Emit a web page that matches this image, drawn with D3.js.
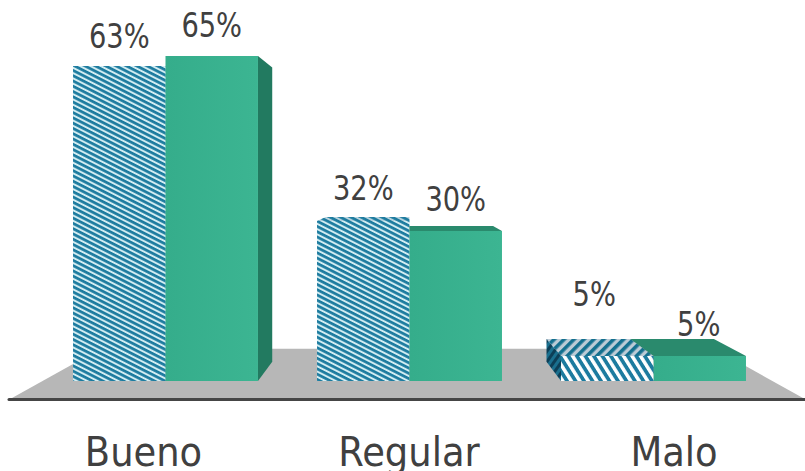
<!DOCTYPE html>
<html><head><meta charset="utf-8">
<script src="https://cdn.jsdelivr.net/npm/d3@7"></script>
<style>html,body{margin:0;padding:0;background:#fff}svg{display:block}</style>
</head><body><svg id="c" width="805" height="471"></svg>
<script>
const categories = ["Bueno","Regular","Malo"];
const seriesNames = ["A","B"];
const seriesA = [63,32,5];
const seriesB = [65,30,5];
const labelLift = [[18.5,21,50],[19,20,20]];
const labelShift = [[0,0,-13],[0,0,-1]];

const svg = d3.select("#c");
const defs = svg.append("defs");
const BLUE="#1c7b9f";
function hatch(id,period,stripe,angle,bg,fg){
  const p=defs.append("pattern").attr("id",id).attr("patternUnits","userSpaceOnUse")
    .attr("width",20).attr("height",period).attr("patternTransform",`rotate(${angle})`);
  p.append("rect").attr("width",20).attr("height",period).attr("fill",bg);
  p.append("rect").attr("width",20).attr("height",stripe).attr("fill",fg);
}
hatch("h1",4.7,2.7,27,"#d3edf2",BLUE);
hatch("hTop",4.7,2.7,27,"#b9d4de",BLUE);
hatch("h2",7.2,3.7,58,"#ffffff",BLUE);
hatch("h2top",7,3.6,-45,"#bccbd6","#14708f");
hatch("h2side",6,3,-55,"#1a6f8e","#0d3f57");
const g=defs.append("linearGradient").attr("id","gf").attr("x1",0).attr("x2",1).attr("y1",0).attr("y2",0);
g.append("stop").attr("offset",0).attr("stop-color","#35ad8b");
g.append("stop").attr("offset",1).attr("stop-color","#3cb592");

const x=d3.scaleBand().domain(categories).range([43.5,775.5]).paddingInner(0.242).paddingOuter(0.121);
const sub=d3.scaleBand().domain(seriesNames).range([0,x.bandwidth()]);
const y=d3.scaleLinear().domain([0,65]).range([381,56]);
const labelX=d3.scaleOrdinal().domain(categories).range([143.5,409,674]);
const vp=[408,178], t=0.095, tFloor=0.2234;
const back=(px,py,k=t)=>[px+(vp[0]-px)*k,py+(vp[1]-py)*k];
const poly=(pts)=>pts.map(p=>p.join(",")).join(" ");

svg.append("polygon").attr("fill","#b7b7b7")
  .attr("points",poly([[12,398],[803,398],back(803,398,tFloor),back(12,398,tFloor)]));
svg.append("line").attr("x1",9).attr("x2",805).attr("y1",399.5).attr("y2",399.5)
  .attr("stroke","#454545").attr("stroke-width",3).attr("stroke-linecap","round");

function bar(cat,val,ser){
  const x0=x(cat)+sub(ser), x1=x0+sub.bandwidth(), y0=y(0), y1=y(val);
  const isA=ser==="A", flat=val<10;
  const front=isA?(flat?"url(#h2)":"url(#h1)"):"url(#gf)";
  const top=isA?(flat?"url(#h2top)":"url(#hTop)"):"#2a8a6d";
  const side=isA?(flat?"url(#h2side)":"url(#h1)"):"#227a60";
  const G=svg.append("g");
  if(y1>vp[1]) G.append("polygon").attr("fill",top)
    .attr("points",poly([[x0,y1],[x1,y1],back(x1,y1),back(x0,y1)]));
  if(x1<vp[0]) G.append("polygon").attr("fill",side)
    .attr("points",poly([[x1,y1],back(x1,y1),back(x1,y0),[x1,y0]]));
  if(x0>vp[0]) G.append("polygon").attr("fill",side)
    .attr("points",poly([[x0,y1],back(x0,y1),back(x0,y0),[x0,y0]]));
  G.append("rect").attr("x",x0).attr("y",y1).attr("width",x1-x0).attr("height",y0-y1).attr("fill",front);
}
categories.forEach((c,i)=>{
  if(c==="Malo"){ bar(c,seriesB[i],"B"); bar(c,seriesA[i],"A"); }
  else { bar(c,seriesA[i],"A"); bar(c,seriesB[i],"B"); }
});

const FONT="'DejaVu Sans',sans-serif";
[seriesA,seriesB].forEach((vals,s)=>{
  svg.append("g").selectAll("text").data(vals).join("text")
    .attr("transform",(d,i)=>`translate(${x(categories[i])+sub(seriesNames[s])+sub.bandwidth()/2+labelShift[s][i]},${y(d)-labelLift[s][i]}) scale(0.92,1)`)
    .attr("text-anchor","middle").attr("font-family",FONT).attr("font-stretch","condensed").attr("font-size",33)
    .attr("fill","#404040").text(d=>d+"%");
});
svg.append("g").selectAll("text").data(categories).join("text")
  .attr("x",d=>labelX(d)).attr("y",466).attr("text-anchor","middle")
  .attr("font-family",FONT).attr("font-stretch","condensed").attr("font-size",41).attr("fill","#404040").text(d=>d);
</script></body></html>
